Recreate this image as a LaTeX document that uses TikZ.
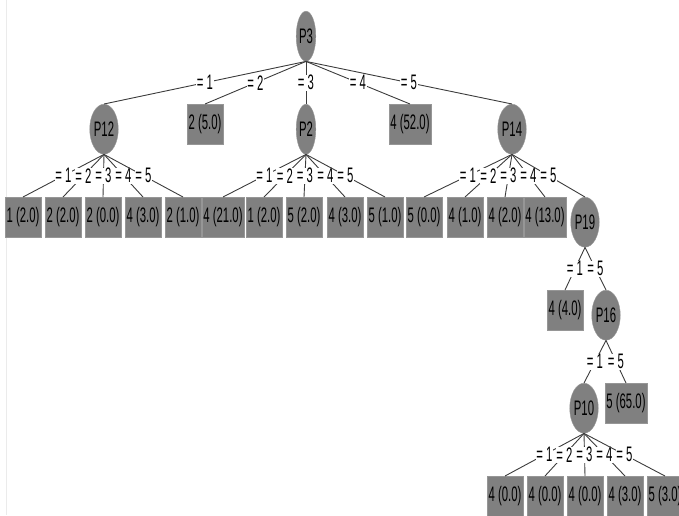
\documentclass[tikz,border=0pt]{standalone}
\usepackage{fontspec}
\newfontfamily\treefont[FakeStretch=0.54]{Liberation Sans}
\usetikzlibrary{shapes.geometric}
\definecolor{nodegray}{RGB}{128,128,128}
\definecolor{rimgray}{RGB}{150,150,150}
\definecolor{edgegray}{RGB}{60,60,60}
\tikzset{%
  treenode/.style  = {anchor=north, fill=nodegray, draw=rimgray,%
                      font=\treefont\fontsize{21}{21}\selectfont},%
  splitnode/.style = {treenode, shape=ellipse, inner xsep=0pt,%
                      inner ysep=0pt, minimum height=50pt},%
  leafnode/.style  = {treenode, shape=rectangle, inner xsep=1.5pt,%
                      inner ysep=0pt, minimum height=40pt},%
  cond/.style      = {fill=white, inner sep=0.6pt,%
                      font=\treefont\fontsize{21}{21}\selectfont}%
}
\begin{document}
\begin{tikzpicture}[x=1pt,y=-1pt,
	edge/.style={draw=edgegray, line width=0.9pt}]
\useasboundingbox (0,0) rectangle (679,515);
\draw [black!8] (6,0) -- (6,515);
% root and first level
	\node [splitnode] (p3)  at (306,11)  {P3};
	\node [splitnode] (p12) at (104,104) {P12};
	\node [leafnode]  (a2)  at (205,104) {2 (5.0)};
	\node [splitnode] (p2)  at (306,104) {P2};
	\node [leafnode]  (a4)  at (410,104) {4 (52.0)};
	\node [splitnode] (p14) at (512,104) {P14};
% second level
	\node [leafnode]  (b1)  at (23,197)  {1 (2.0)};
	\node [leafnode]  (b2)  at (63,197)  {2 (2.0)};
	\node [leafnode]  (b3)  at (103,197) {2 (0.0)};
	\node [leafnode]  (b4)  at (143,197) {4 (3.0)};
	\node [leafnode]  (b5)  at (183,197) {2 (1.0)};
	\node [leafnode]  (c1)  at (223,197) {4 (21.0)};
	\node [leafnode]  (c2)  at (264,197) {1 (2.0)};
	\node [leafnode]  (c3)  at (304,197) {5 (2.0)};
	\node [leafnode]  (c4)  at (345,197) {4 (3.0)};
	\node [leafnode]  (c5)  at (385,197) {5 (1.0)};
	\node [leafnode]  (d1)  at (424,197) {5 (0.0)};
	\node [leafnode]  (d2)  at (465,197) {4 (1.0)};
	\node [leafnode]  (d3)  at (505,197) {4 (2.0)};
	\node [leafnode]  (d4)  at (545,197) {4 (13.0)};
	\node [splitnode] (p19) at (585,197) {P19};
% lower levels
	\node [leafnode]  (e1)  at (565,290) {4 (4.0)};
	\node [splitnode] (p16) at (606,290) {P16};
	\node [splitnode] (p10) at (584,383) {P10};
	\node [leafnode]  (f5)  at (626,383) {5 (65.0)};
	\node [leafnode]  (g1)  at (505,476) {4 (0.0)};
	\node [leafnode]  (g2)  at (545,476) {4 (0.0)};
	\node [leafnode]  (g3)  at (585,476) {4 (0.0)};
	\node [leafnode]  (g4)  at (625,476) {4 (3.0)};
	\node [leafnode]  (g5)  at (665,476) {5 (3.0)};
% connectors
	\path [edge] (p3.south) -- node [cond] {= 1} (p12.north);
	\path [edge] (p3.south) -- node [cond] {= 2} (a2.north);
	\path [edge] (p3.south) -- node [cond] {= 3} (p2.north);
	\path [edge] (p3.south) -- node [cond] {= 4} (a4.north);
	\path [edge] (p3.south) -- node [cond] {= 5} (p14.north);
	\path [edge] (p12.south) -- node [cond] {= 1} (b1.north);
	\path [edge] (p12.south) -- node [cond] {= 2} (b2.north);
	\path [edge] (p12.south) -- node [cond] {= 3} (b3.north);
	\path [edge] (p12.south) -- node [cond] {= 4} (b4.north);
	\path [edge] (p12.south) -- node [cond] {= 5} (b5.north);
	\path [edge] (p2.south) -- node [cond] {= 1} (c1.north);
	\path [edge] (p2.south) -- node [cond] {= 2} (c2.north);
	\path [edge] (p2.south) -- node [cond] {= 3} (c3.north);
	\path [edge] (p2.south) -- node [cond] {= 4} (c4.north);
	\path [edge] (p2.south) -- node [cond] {= 5} (c5.north);
	\path [edge] (p14.south) -- node [cond] {= 1} (d1.north);
	\path [edge] (p14.south) -- node [cond] {= 2} (d2.north);
	\path [edge] (p14.south) -- node [cond] {= 3} (d3.north);
	\path [edge] (p14.south) -- node [cond] {= 4} (d4.north);
	\path [edge] (p14.south) -- node [cond] {= 5} (p19.north);
	\path [edge] (p19.south) -- node [cond] {= 1} (e1.north);
	\path [edge] (p19.south) -- node [cond] {= 5} (p16.north);
	\path [edge] (p16.south) -- node [cond] {= 1} (p10.north);
	\path [edge] (p16.south) -- node [cond] {= 5} (f5.north);
	\path [edge] (p10.south) -- node [cond] {= 1} (g1.north);
	\path [edge] (p10.south) -- node [cond] {= 2} (g2.north);
	\path [edge] (p10.south) -- node [cond] {= 3} (g3.north);
	\path [edge] (p10.south) -- node [cond] {= 4} (g4.north);
	\path [edge] (p10.south) -- node [cond] {= 5} (g5.north);
\end{tikzpicture}
\end{document}
